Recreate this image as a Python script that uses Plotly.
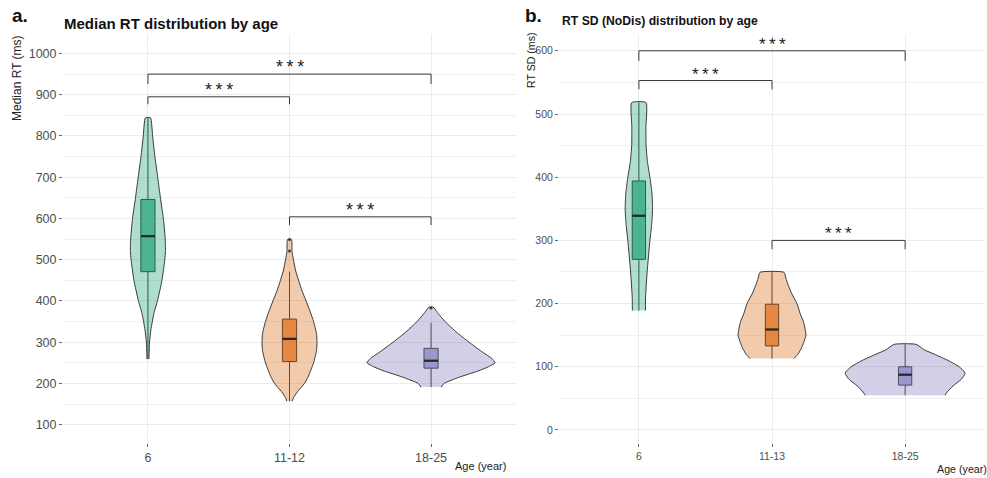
import plotly.graph_objects as go

# ---------------- data ----------------
groups_a = ["6", "11-12", "18-25"]
groups_b = ["6", "11-13", "18-25"]

# violin outlines: value levels and half-width (category units)
a6_y = [259, 300, 330, 370, 400, 450, 500, 520, 550, 600, 650, 700, 750, 800, 844]
a6_w = [0.007, 0.011, 0.021, 0.042, 0.067, 0.099, 0.119, 0.124, 0.122, 0.109, 0.088, 0.069, 0.049, 0.033, 0.018]
a11_y = [157, 165, 180, 200, 218, 250, 280, 300, 320, 350, 375, 400, 425, 450, 475, 500, 520, 549]
a11_w = [0.019, 0.028, 0.056, 0.106, 0.134, 0.170, 0.191, 0.194, 0.191, 0.170, 0.145, 0.117, 0.088, 0.064, 0.042, 0.028, 0.018, 0.014]
a18_y = [191, 200, 215, 230, 240, 250, 260, 275, 300, 325, 350, 370, 380, 385]
a18_w = [0.071, 0.092, 0.198, 0.332, 0.403, 0.452, 0.431, 0.367, 0.268, 0.177, 0.099, 0.049, 0.028, 0.014]

b6_y = [189, 210, 250, 300, 325, 350, 375, 400, 425, 450, 480, 518]
b6_w = [0.049, 0.050, 0.062, 0.083, 0.096, 0.103, 0.098, 0.083, 0.064, 0.054, 0.053, 0.054]
b11_y = [113, 120, 130, 150, 170, 185, 200, 215, 230, 240, 249.5]
b11_w = [0.165, 0.195, 0.222, 0.255, 0.238, 0.210, 0.188, 0.150, 0.120, 0.105, 0.090]
b18_y = [55, 60, 70, 80, 90, 100, 110, 120, 127, 135.5]
b18_w = [0.300, 0.316, 0.361, 0.421, 0.451, 0.406, 0.323, 0.218, 0.143, 0.083]

# box statistics
a_q1 = [471, 253, 237]
a_med = [557, 308, 255]
a_q3 = [646, 356, 285]
a_lo = [259, 157, 191]
a_hi = [844, 471, 347]
a_out_x = [2, 2, 3]
a_out_y = [521, 549, 383]

b_q1 = [270, 133, 71]
b_med = [339, 159, 87.5]
b_q3 = [394, 199, 100]
b_lo = [189, 113, 55]
b_hi = [518, 249.5, 135.5]

# significance brackets: (left group, right group, level, tip end)
brackets_a = [(1, 2, 895, 877), (1, 3, 950, 926), (2, 3, 604, 584)]
brackets_b = [(1, 2, 553, 539), (1, 3, 600, 584), (2, 3, 300, 286)]
sig_label = "*\u2009*\u2009*"

# ---------------- styles ----------------
violin_fill = ["rgba(27,158,119,0.35)", "rgba(217,95,2,0.33)", "rgba(117,112,179,0.33)"]
box_fill = ["#66c09f", "#ed9c60", "#aca9db"]
outline = "#3a3a3a"
FONT = "Arial, Liberation Sans, sans-serif"
BOX_W = 0.1

fig = go.Figure()


def add_violin(xref, yref, center, ys, ws, color):
    xs = [center - w for w in ws] + [center + w for w in reversed(ws)]
    yy = list(ys) + list(reversed(ys))
    fig.add_trace(go.Scatter(x=xs, y=yy, xaxis=xref, yaxis=yref, mode="lines",
                             fill="toself", fillcolor=color,
                             line=dict(color=outline, width=1, shape="spline", smoothing=0.5),
                             hoverinfo="skip", showlegend=False))


for i, (ys, ws) in enumerate([(a6_y, a6_w), (a11_y, a11_w), (a18_y, a18_w)]):
    add_violin("x", "y", i + 1, ys, ws, violin_fill[i])
for i, (ys, ws) in enumerate([(b6_y, b6_w), (b11_y, b11_w), (b18_y, b18_w)]):
    add_violin("x2", "y2", i + 1, ys, ws, violin_fill[i])


def add_boxes(xref, yref, q1, med, q3, lo, hi):
    for i in range(3):
        fig.add_trace(go.Box(x=[i + 1], q1=[q1[i]], median=[med[i]], q3=[q3[i]],
                             lowerfence=[lo[i]], upperfence=[hi[i]], width=BOX_W,
                             whiskerwidth=0, fillcolor=box_fill[i], line=dict(color=outline, width=1),
                             boxpoints=False, xaxis=xref, yaxis=yref, showlegend=False, hoverinfo="skip"))
        # emphasised median bar
        fig.add_trace(go.Scatter(x=[i + 1 - BOX_W / 2, i + 1 + BOX_W / 2], y=[med[i], med[i]],
                                 xaxis=xref, yaxis=yref, mode="lines",
                                 line=dict(color="#262626", width=2.2),
                                 showlegend=False, hoverinfo="skip"))


add_boxes("x", "y", a_q1, a_med, a_q3, a_lo, a_hi)
add_boxes("x2", "y2", b_q1, b_med, b_q3, b_lo, b_hi)

fig.add_trace(go.Scatter(x=a_out_x, y=a_out_y, mode="markers", xaxis="x", yaxis="y",
                         marker=dict(size=3, color=outline), showlegend=False, hoverinfo="skip"))


def add_brackets(xref, yref, brackets, size):
    for (g1, g2, lev, tip) in brackets:
        fig.add_trace(go.Scatter(x=[g1, g1, g2, g2], y=[tip, lev, lev, tip], xaxis=xref, yaxis=yref,
                                 mode="lines", line=dict(color=outline, width=1),
                                 showlegend=False, hoverinfo="skip"))
        fig.add_annotation(x=(g1 + g2) / 2, y=lev, xref=xref, yref=yref, text=sig_label,
                           showarrow=False, yanchor="bottom", yshift=-5,
                           font=dict(family=FONT, size=size, color="#222"))


add_brackets("x", "y", brackets_a, 18)
add_brackets("x2", "y2", brackets_b, 17)

W, H = 987, 478
ydom = [1 - 443 / H, 1 - 34 / H]
grid = "#ebebeb"
tickfont_a = dict(family=FONT, size=12.5, color="#4d4d4d")
tickfont_b = dict(family=FONT, size=10.5, color="#4d4d4d")
common = dict(showgrid=True, gridcolor=grid, gridwidth=1, zeroline=False, automargin=False,
              ticks="outside", ticklen=3, tickcolor="#666")

fig.update_layout(
    width=W, height=H, margin=dict(l=0, r=0, t=0, b=0, autoexpand=False),
    paper_bgcolor="white", plot_bgcolor="white",
    font=dict(family=FONT),
    xaxis=dict(domain=[63 / W, 516 / W], range=[0.4, 3.6], tickvals=[1, 2, 3], ticktext=groups_a,
               tickfont=tickfont_a, anchor="y", **common),
    yaxis=dict(domain=ydom, range=[55.5, 1047.3], tickvals=list(range(100, 1001, 100)),
               minor=dict(tickvals=list(range(150, 1001, 100)), showgrid=True, gridcolor="#f0f0f0", gridwidth=1),
               tickfont=tickfont_a, anchor="x", **common),
    xaxis2=dict(domain=[559 / W, 985 / W], range=[0.4, 3.6], tickvals=[1, 2, 3], ticktext=groups_b,
                tickfont=tickfont_b, anchor="y2", **common),
    yaxis2=dict(domain=ydom, range=[-20.6, 626.6], tickvals=list(range(0, 601, 100)),
                minor=dict(tickvals=list(range(50, 601, 100)), showgrid=True, gridcolor="#f0f0f0", gridwidth=1),
                tickfont=tickfont_b, anchor="x2", **common),
)

paper_texts = [
    ("a.", 10, 16, 19, True, 0, "left"),
    ("Median RT distribution by age", 62, 23, 15, True, 0, "left"),
    ("b.", 523, 16, 19, True, 0, "left"),
    ("RT SD (NoDis) distribution by age", 560, 21, 12.2, True, 0, "left"),
    ("Median RT (ms)", 17, 78, 12, False, -90, "center"),
    ("RT SD (ms)", 531, 60, 10.6, False, -90, "center"),
    ("Age (year)", 453, 466, 11, False, 0, "left"),
    ("Age (year)", 935, 469, 10.7, False, 0, "left"),
]
for (txt, px, py, size, bold, ang, xa) in paper_texts:
    fig.add_annotation(x=px / W, y=1 - py / H, xref="paper", yref="paper",
                       text=f"<b>{txt}</b>" if bold else txt, showarrow=False,
                       xanchor=xa, yanchor="middle", textangle=ang,
                       font=dict(family=FONT, size=size, color="#111" if bold else "#222"))

fig.write_html("out.html", config={"displayModeBar": False},
               post_script="document.body.style.margin='0px';document.body.style.overflow='hidden';")
